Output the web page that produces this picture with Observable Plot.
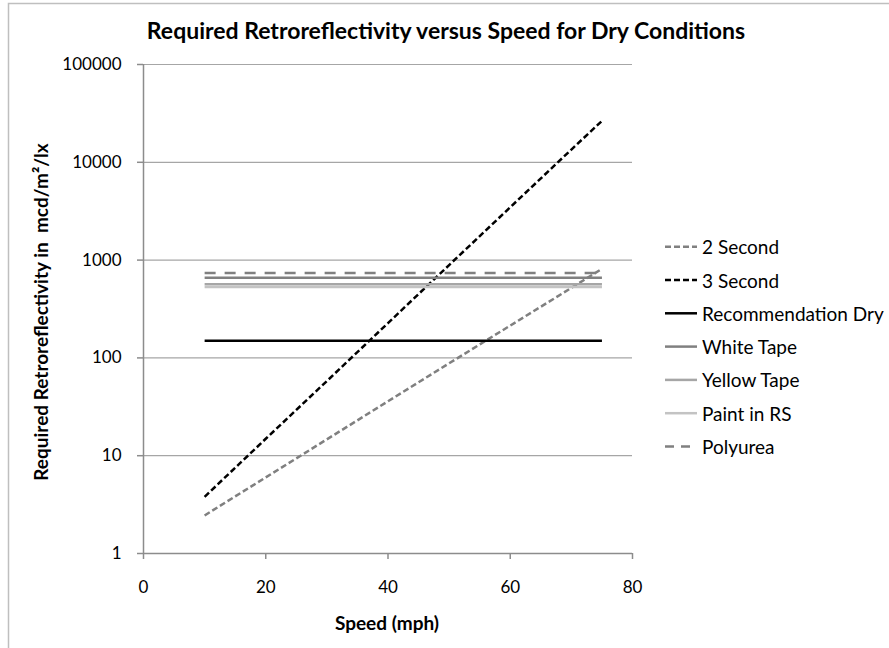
<!DOCTYPE html>
<html>
<head>
<meta charset="utf-8">
<script src="https://cdn.jsdelivr.net/npm/d3@7"></script>
<script src="https://cdn.jsdelivr.net/npm/@observablehq/plot@0.6"></script>
<style>
  html, body { margin: 0; padding: 0; background: #fff; }
  #chart { position: relative; width: 889px; height: 648px; }
</style>
</head>
<body>
<div id="chart"></div>
<script>
// ---- data ----
const title = "Required Retroreflectivity versus Speed for Dry Conditions";
const xLabel = "Speed (mph)";
const yLabel = "Required Retroreflectivity in  mcd/m²/lx";
const xTicks = [0, 20, 40, 60, 80];
const yTicks = [1, 10, 100, 1000, 10000, 100000];

const seriesNames = ["2 Second", "3 Second", "Recommendation Dry", "White Tape", "Yellow Tape", "Paint in RS", "Polyurea"];
const speeds = [10, 20, 30, 40, 50, 60, 70, 75];
const twoSecond   = [2.45, 6.0, 14.7, 36, 88, 214, 520, 815];
const threeSecond = [3.8, 14.9, 58, 227, 890, 3470, 13500, 26500];
const flatSpeeds = [10, 75];
const recommendationDry = [150, 150];
const whiteTape  = [660, 660];
const yellowTape = [565, 565];
const paintInRS  = [530, 530];
const polyurea   = [738, 738];

const seriesColors = ["#808080", "#000000", "#000000", "#808080", "#a6a6a6", "#c3c3c3", "#808080"];
const seriesDash   = ["6,3", "6,3", null, null, null, null, "11,9"];

// ---- build rows ----
const seriesValues = [twoSecond, threeSecond, recommendationDry, whiteTape, yellowTape, paintInRS, polyurea];
const seriesX = [speeds, speeds, flatSpeeds, flatSpeeds, flatSpeeds, flatSpeeds, flatSpeeds];

const lineMarks = seriesNames.map((name, i) => {
  const rows = seriesValues[i].map((v, j) => ({speed: seriesX[i][j], value: v}));
  return Plot.line(rows, {
    x: "speed", y: "value",
    stroke: seriesColors[i], strokeWidth: 2.5,
    strokeDasharray: seriesDash[i] || undefined,
    strokeLinecap: "butt"
  });
});

const plot = Plot.plot({
  width: 889, height: 648,
  marginLeft: 143, marginRight: 257, marginTop: 64, marginBottom: 95,
  style: {fontFamily: "Lato", fontSize: "17px", color: "#000", background: "transparent"},
  x: {domain: [0, 80]},
  y: {type: "log", domain: [1, 100000]},
  marks: [
    Plot.ruleY(yTicks.slice(1), {stroke: "#a6a6a6", strokeWidth: 1.2}),
    Plot.axisY({ticks: yTicks, tickFormat: d3.format("d"), tickSize: 6, tickPadding: 16, stroke: "#8c8c8c", strokeWidth: 1.5, label: null, fill: "#000"}),
    Plot.axisX({ticks: xTicks, tickSize: 6, tickPadding: 21, stroke: "#8c8c8c", strokeWidth: 1.5, label: null, fill: "#000"}),
    Plot.ruleX([0], {stroke: "#8c8c8c", strokeWidth: 1.5}),
    Plot.ruleY([1], {stroke: "#8c8c8c", strokeWidth: 1.5}),
    ...lineMarks
  ]
});

const svg = d3.select(plot);
// outer border
svg.insert("rect", ":first-child")
  .attr("x", 8.5).attr("y", 3.5).attr("width", 900).attr("height", 700)
  .attr("fill", "#fff").attr("stroke", "#bfbfbf").attr("stroke-width", 1.5);

// title
svg.append("text").attr("x", 446).attr("y", 30).attr("text-anchor", "middle")
  .attr("dominant-baseline", "central")
  .style("font-family", "Lato").style("font-weight", "bold").style("font-size", "23px")
  .text(title);

// axis labels
svg.append("text").attr("x", 387).attr("y", 622).attr("text-anchor", "middle")
  .attr("dominant-baseline", "central")
  .style("font-family", "Lato").style("font-weight", "bold").style("font-size", "19px")
  .text(xLabel);
svg.append("text").attr("transform", "translate(40,312) rotate(-90)").attr("text-anchor", "middle")
  .attr("dominant-baseline", "central")
  .style("font-family", "Lato").style("font-weight", "bold").style("font-size", "19px")
  .text(yLabel);

// legend
const lg = svg.append("g");
seriesNames.forEach((name, i) => {
  const y = 246.7 + i * 33.3;
  lg.append("line").attr("x1", 665).attr("x2", 697).attr("y1", y).attr("y2", y)
    .attr("stroke", seriesColors[i]).attr("stroke-width", 2.5)
    .attr("stroke-dasharray", seriesDash[i] ? (i === 6 ? "9,7" : "6,3") : null);
  lg.append("text").attr("x", 702).attr("y", y).attr("dominant-baseline", "central")
    .attr("text-anchor", "start")
    .style("font-family", "Lato").style("font-size", "19px").text(name);
});

document.getElementById("chart").appendChild(plot);
</script>
</body>
</html>
